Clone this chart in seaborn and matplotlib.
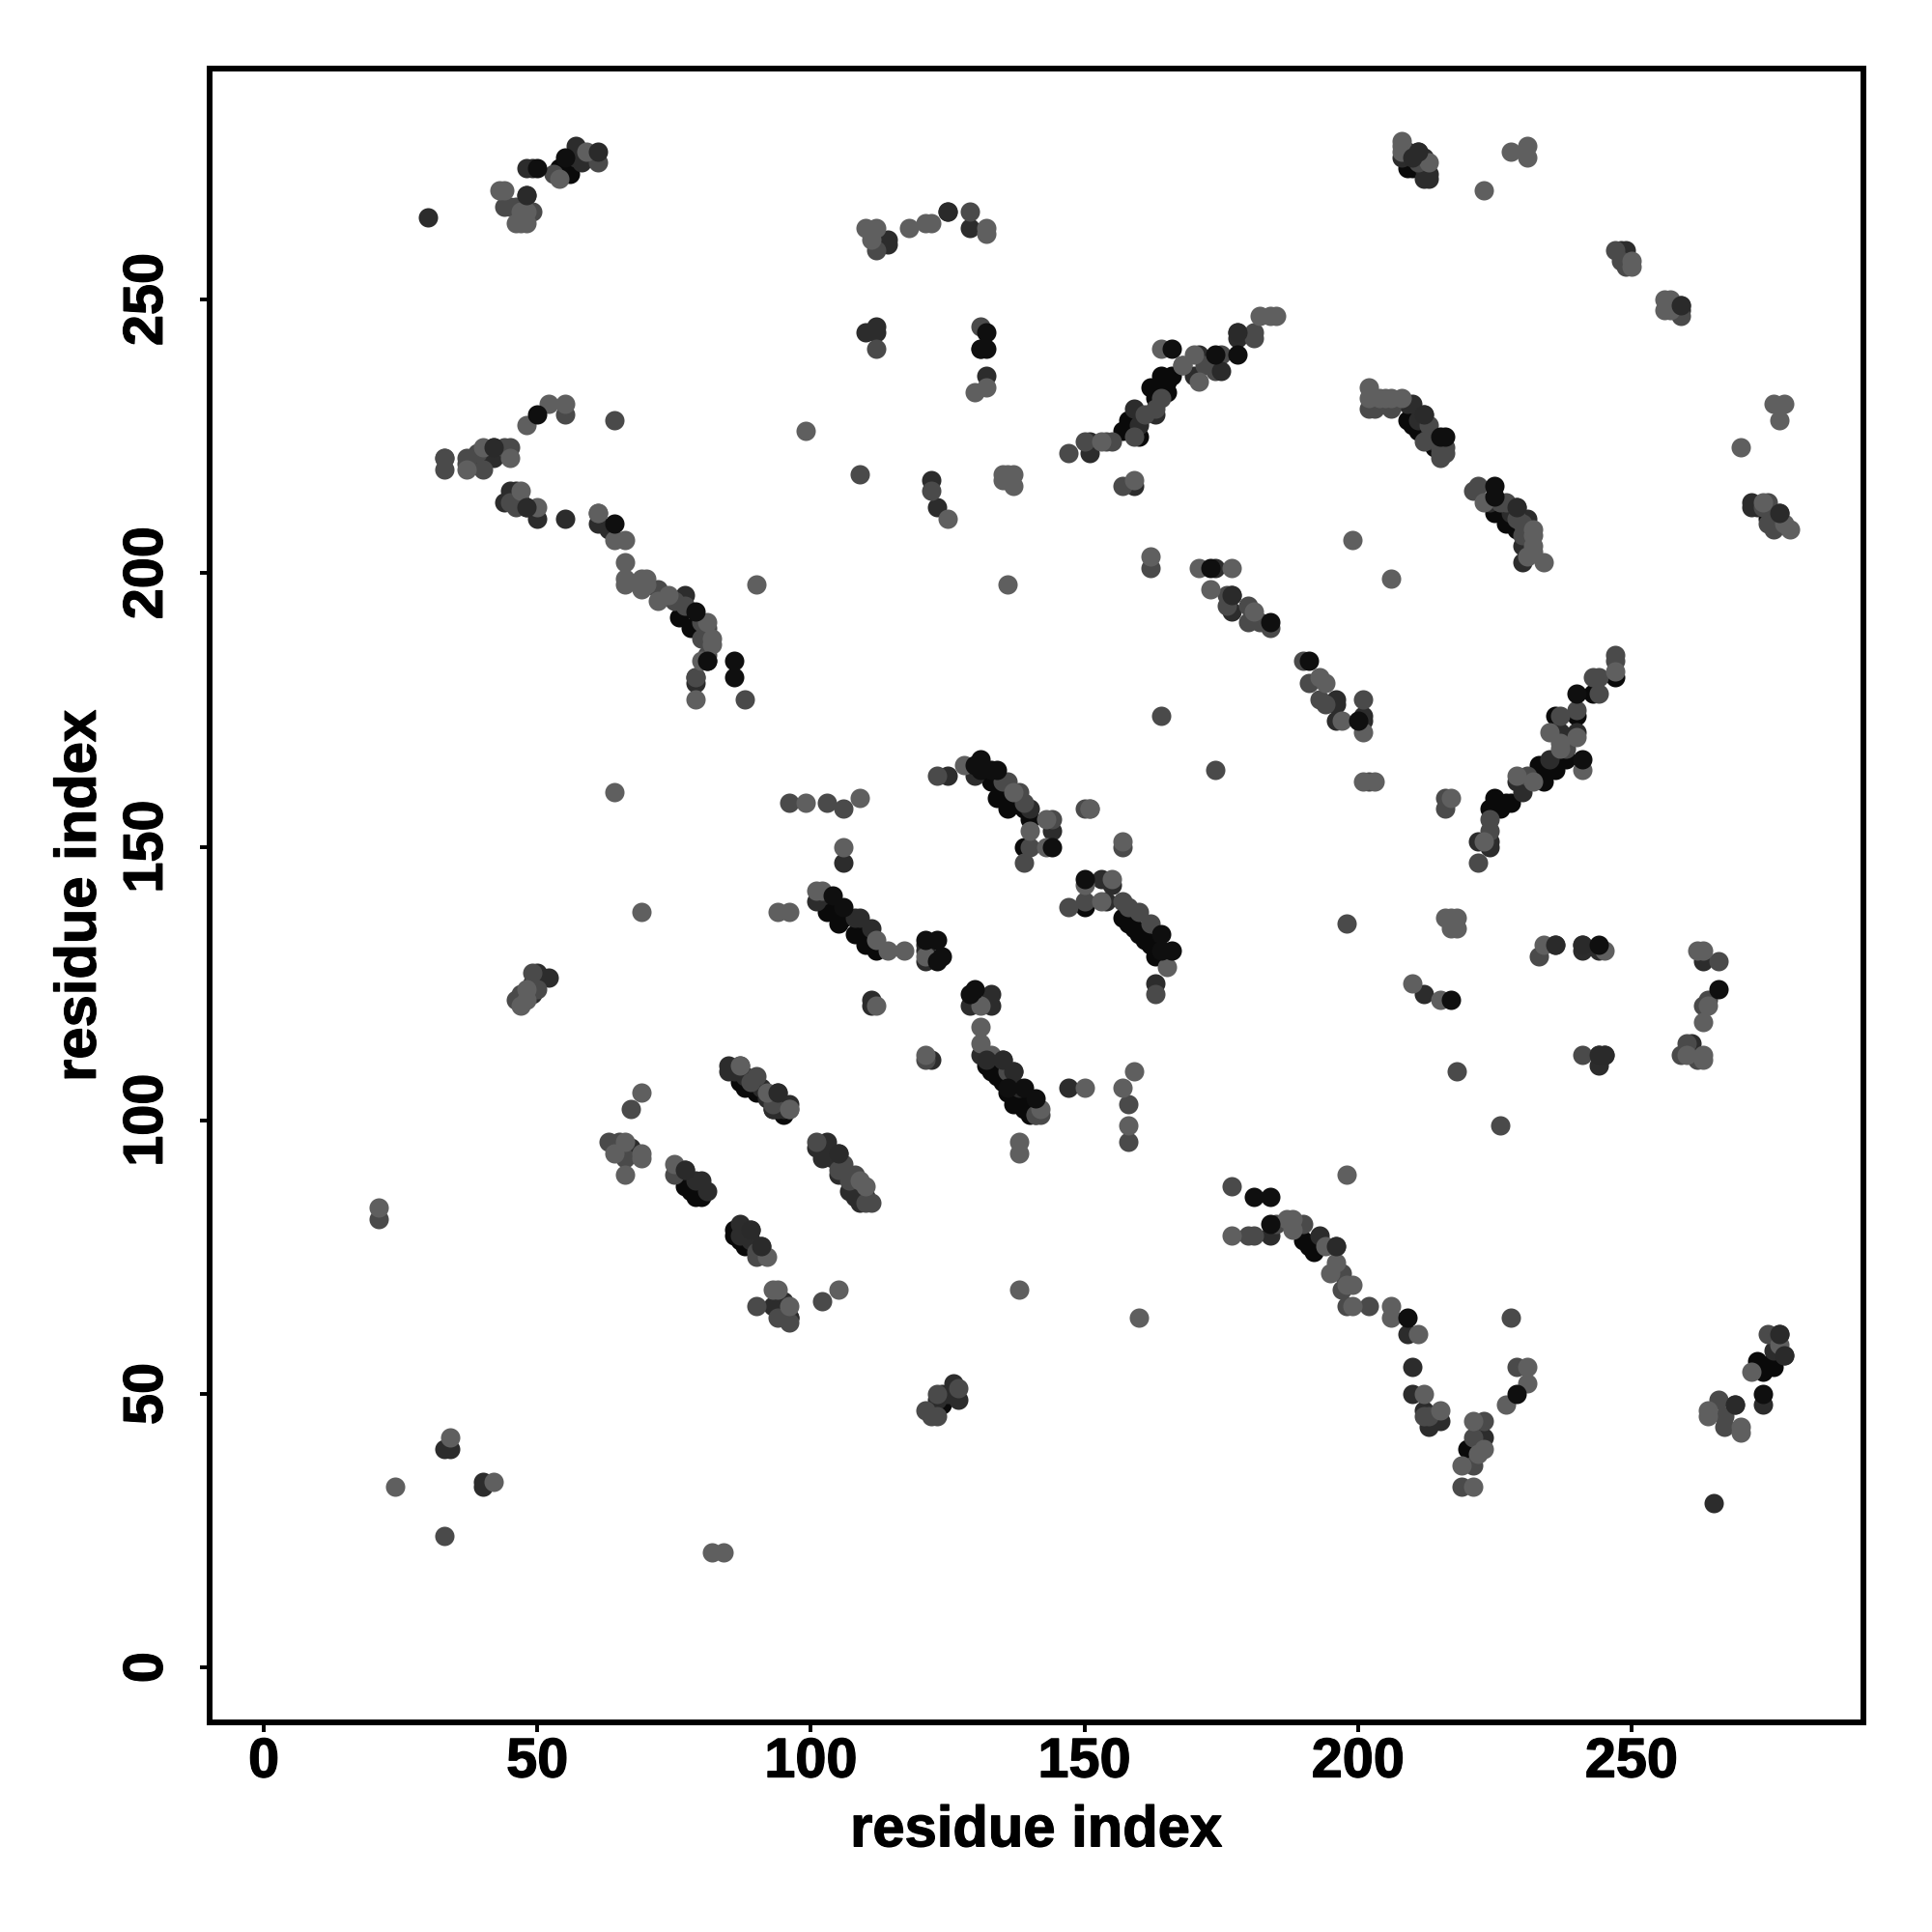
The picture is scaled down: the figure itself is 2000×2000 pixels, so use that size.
import matplotlib
matplotlib.use("Agg")
import matplotlib.pyplot as plt
import matplotlib.patheffects as pe
import pandas as pd
import seaborn as sns

# contacts, grouped by grey level (drawn in this order)
black_under = [(54,274),(55,275),(56,273),(55,273),(56,275),(40,220),(76,192),(78,190),(81,184),
    (158,228),(157,226),(158,226),(160,225),(162,234),(163,232),(164,234),(165,235),(166,236),(165,233),(164,236),
    (209,228),(211,226),(209,274),(210,274),(210,275),(212,227),(225,211),(226,212),(227,209),(229,208),(228,210),
    (103,138),(105,136),(108,134),(110,132),(112,131),(104,138),(106,137),(109,134),(111,132),
    (134,159),(136,157),(133,162),(135,160),(137,158),(139,157),(140,155),(139,150),
    (157,137),(159,135),(161,133),(163,130),(158,136),(160,134),(162,132),(150,139),
    (132,110),(134,108),(136,105),(137,103),(140,101),(133,109),(135,107),(138,104),(139,102),
    (77,88),(79,86),(80,86),(78,87),(86,79),(88,77),(87,78),(86,80),
    (87,107),(90,105),(88,106),(93,102),(89,106),(95,101),(96,64),(124,48),
    (220,40),(190,78),(192,76),(191,77),(274,54),(273,56),(276,55),(275,55),(276,56),
    (224,157),(226,157),(225,159),(228,158),(227,158),(234,162),(233,163),(236,164),(235,164),(233,165),
    (238,166),(237,166),(247,181),(240,174),(236,174),(243,178),(275,210),(276,209),(210,227),(214,223)]
dark = [(30,265),(48,274),(49,274),(57,278),(57,276),(58,275),(48,269),(42,223),(42,221),(48,212),(44,213),(45,215),(46,215),
    (50,210),(55,210),(61,209),(63,208),(77,196),(79,180),(79,181),
    (151,224),(151,222),(159,230),(160,227),(163,229),(170,236),(171,240),
    (178,244),(178,243),(159,216),(212,272),(213,272),(211,277),(212,274),(209,277),(208,276),
    (209,231),(210,231),(212,229),(214,224),(231,210),(229,212),(230,205),(230,202),
    (174,201),(177,196),(177,193),(196,177),(196,176),(196,173),(201,174),(201,173),
    (101,140),(102,141),(108,137),(109,137),(111,135),(121,129),(111,122),(111,121),
    (129,121),(133,121),(133,123),(122,111),(131,112),(135,111),(137,109),(141,101),
    (125,163),(130,163),(140,157),(144,153),(153,144),(155,143),(154,140),(163,125),
    (85,110),(85,109),(87,110),(94,105),(93,102),(95,102),(96,103),(103,96),(101,95),(102,93),(105,94),
    (107,87),(109,85),(105,90),(110,86),(64,95),(67,95),(77,91),(79,89),(80,89),(81,87),
    (87,81),(89,80),(91,77),(93,66),(95,67),(95,65),(96,64),(126,52),(127,49),(124,50),(123,49),(125,50),
    (184,79),(193,79),(196,77),(209,61),(210,55),(210,50),(212,47),(213,44),(215,45),(223,42),
    (265,30),(269,48),(274,48),(277,61),(278,57),(276,58),
    (224,151),(224,150),(222,151),(230,160),(229,162),(235,166),(237,171),(240,171),(236,171),(244,112),(245,112),(244,110),
    (241,132),(241,131),(244,131),(236,132),(212,123),(263,129),(261,112),(261,114),
    (110,244),(112,245),(112,244),(132,236),(114,261),(114,260),(125,266),(129,263),(33,40),(34,40),(40,34),(40,33),
    (248,259),(249,259),(259,249),(259,248),(272,213),(272,212),(277,211),(122,217),(123,212),(52,126),(51,126),(50,127),(49,125),(49,123),
    (147,106),(106,147),(273,212),(86,109),(88,108),(91,106),(92,104),(94,102),(104,93),(106,90),(108,86),(87,79),(89,78),(121,132),(121,131),
    (213,225),(211,228),(224,213),(228,211),(212,276),(213,273)]
mid = [(44,267),(45,267),(46,267),(49,266),(61,275),(53,273),(33,219),(37,221),(37,220),(39,222),(40,219),(44,223),(45,223),
    (55,229),(64,228),(46,212),(45,213),(47,213),(61,211),(72,197),(75,195),(77,194),(80,191),(81,190),(80,188),(81,185),
    (79,181),(88,177),(150,224),(154,224),(155,224),(159,225),(161,229),(163,230),(164,232),(168,238),(172,238),(175,240),(174,237),(181,243),(181,244),
    (147,222),(157,216),(202,230),(203,230),(206,230),(213,227),(212,224),(215,223),(216,222),(215,221),(216,223),
    (221,215),(222,216),(227,213),(229,210),(230,207),(162,201),(176,196),(176,194),(180,194),(180,191),(182,191),(184,190),
    (190,184),(191,180),(193,177),(194,176),(201,177),(164,174),(174,164),(202,162),(216,159),(216,157),(150,157),(157,150),
    (96,158),(103,158),(106,157),(123,163),(135,162),(136,162),(138,160),(139,158),(140,150),(144,155),(139,147),
    (147,139),(150,140),(157,140),(158,139),(160,138),(162,136),(163,123),(121,111),(136,109),(141,101),(142,101),
    (158,103),(158,96),(90,108),(96,102),(101,96),(105,91),(108,90),(111,85),(63,96),(65,96),(66,93),(67,102),
    (75,90),(90,75),(90,66),(94,64),(96,63),(102,67),(121,47),(122,46),(123,46),(123,50),(127,51),
    (177,88),(180,79),(181,79),(185,81),(190,81),(197,72),(197,69),(198,66),(202,66),(212,46),(213,46),
    (223,45),(221,42),(221,37),(219,33),(228,64),(229,55),(266,49),(267,46),(267,44),(275,61),
    (247,185),(247,184),(243,181),(244,181),(240,175),(237,174),(238,168),(244,178),(222,147),(231,163),(224,155),(224,153),
    (233,130),(241,112),(198,136),(218,109),(226,99),(266,129),(263,121),(259,112),(260,114),(262,111),(264,122),
    (112,241),(131,245),(131,241),(112,259),(129,266),(122,215),(109,218),(247,259),(248,257),(249,256),(259,247),(276,208),(275,213),
    (47,123),(46,122),(50,124),(49,127),(33,221),(33,24),(21,82),(33,221),
    (89,107),(93,103),(106,92),(107,89),(110,85),(90,76),(275,209),(274,212),(275,212),(226,213),(230,209),(211,275),(215,222)]
light = [(43,270),(44,270),(47,266),(48,266),(46,264),(47,264),(48,264),(54,272),(59,277),(37,219),(40,223),(45,221),(48,227),(52,231),(55,231),
    (99,226),(47,215),(50,212),(61,211),(64,206),(66,206),(66,202),(66,199),(66,198),(90,198),(69,199),(70,199),(69,197),(70,198),(72,195),(74,196),
    (82,188),(82,187),(81,191),(79,177),(80,184),
    (153,224),(159,217),(164,241),(170,240),(171,235),(168,238),(182,247),(184,247),(185,247),(208,279),(208,278),(213,275),(223,270),
    (202,234),(202,232),(204,232),(205,232),(206,232),(208,232),(223,213),(232,208),(232,207),(232,205),(232,204),(231,203),(234,202),
    (162,203),(171,201),(177,201),(173,197),(181,193),(193,181),(194,180),(197,173),(201,171),(199,206),(206,199),
    (201,162),(203,162),(217,159),(151,157),(157,151),(99,158),(109,159),(106,150),(128,165),(137,160),(140,153),(143,155),(143,150),(151,157),
    (150,143),(153,140),(155,144),(165,128),(94,138),(96,138),(102,142),(101,142),(112,133),(114,131),(117,131),(121,130),(112,121),
    (131,121),(131,117),(131,114),(121,112),(133,112),(142,102),(150,106),(159,109),(157,106),(158,99),(138,96),(138,94),
    (87,110),(92,105),(96,102),(110,88),(109,89),(64,94),(66,96),(69,94),(69,93),(69,105),(66,90),(75,92),(92,75),
    (93,69),(94,69),(96,66),(105,69),(138,69),(177,79),(198,90),(187,82),(188,82),(188,80),(194,77),(195,72),(196,74),(198,70),(199,70),(199,66),
    (206,66),(206,64),(211,61),(212,50),(215,47),(221,45),(223,40),(222,39),(219,37),(221,33),(231,55),(231,52),(227,48),
    (264,47),(264,46),(270,44),(270,43),(272,54),(277,59),(247,182),(235,171),(241,164),(240,170),(237,169),(237,168),(232,162),(223,151),(229,163),
    (216,137),(217,137),(218,137),(217,135),(218,135),(234,132),(245,131),(210,125),(215,122),(262,131),(263,131),(264,121),(263,118),(260,112),(263,112),(263,111),
    (110,263),(112,263),(111,261),(118,263),(121,264),(122,264),(132,263),(132,262),(130,233),(132,234),(228,277),(231,278),(231,276),
    (125,210),(135,218),(136,218),(137,218),(135,217),(137,216),(136,198),(160,64),(64,160),(69,138),(24,33),(42,34),(34,42),(21,84),(82,21),(84,21),
    (250,257),(250,256),(256,250),(257,250),(256,248),(257,248),(276,231),(278,231),(277,228),(270,223),(274,213),(278,209),(279,208),
    (47,121),(48,122),(48,124),(208,277)]
dark_top = [(61,277),(48,269),(42,223),(48,212),(177,196),(212,229),(229,212),(138,106),(94,105),(105,94),(89,80),(91,77),(77,91),(196,77),(269,48),(277,61),(278,57),
    (178,244),(236,132),(244,112),(245,112),(241,132),(125,266),(259,249),(277,211),(132,111),(137,109),(135,111),(175,237),(211,277),(210,276)]
black_top = [(50,274),(50,229),(64,209),(55,276),(79,193),(86,184),(86,181),(81,184),(166,241),(174,240),(178,240),(216,225),(215,225),(225,216),(225,214),
    (173,201),(184,191),(191,184),(200,173),(104,141),(106,139),(121,133),(123,133),(123,129),(124,130),(130,124),(129,123),
    (131,166),(130,165),(131,164),(133,164),(134,164),(144,150),(150,144),(164,134),(164,131),(166,131),(141,104),(139,106),(136,106),
    (184,81),(181,86),(184,86),(209,64),(229,50),(274,50),(241,166),(240,178),(217,122),(244,132),(266,124),(132,244),(132,241),(131,241)]

x_ticks = [0, 50, 100, 150, 200, 250]
axis_label = "residue index"
layers = [(black_under, "#0a0a0a"), (dark, "#2c2c2c"), (mid, "#4a4a4a"), (light, "#5f5f5f"),
          (dark_top, "#2a2a2a"), (black_top, "#0f0f0f")]

sns.set_theme(style="white")
plt.rcParams["font.family"] = ["Liberation Sans", "DejaVu Sans"]
plt.rcParams["font.weight"] = "bold"

fig = plt.figure(figsize=(20, 20), dpi=100)
ax = fig.add_axes([0.1083, 0.1083, 0.8562, 0.8562])
for pts, colour in layers:
    df = pd.DataFrame(pts, columns=["i", "j"])
    sns.scatterplot(data=df, x="i", y="j", color=colour, s=208, linewidth=0, ax=ax, legend=False, zorder=3)

ax.set_xlim(-9.97, 292.4)
ax.set_ylim(-10.1, 292.2)
ax.set_xticks(x_ticks)
ax.set_yticks(x_ticks)
ax.tick_params(axis="both", which="major", length=7, width=2.8, color="black", labelsize=41.5,
               labelcolor="black", bottom=True, left=True)
ax.tick_params(axis="x", pad=3.2)
ax.tick_params(axis="y", pad=19.5)
for lab in ax.get_yticklabels():
    lab.set_rotation(90)
    lab.set_va("center")
for s in ax.spines.values():
    s.set_visible(True)
    s.set_color("black")
    s.set_linewidth(4.3)
ax.set_xlabel(axis_label, fontsize=43, fontweight="bold", color="black")
ax.set_ylabel(axis_label, fontsize=43, fontweight="bold", color="black")
ax.xaxis.set_label_coords(0.5, -0.0496)
ax.yaxis.set_label_coords(-0.0618, 0.5)
heavier = [pe.withStroke(linewidth=0.9, foreground="black")]
for lab in ax.get_xticklabels() + ax.get_yticklabels() + [ax.xaxis.label, ax.yaxis.label]:
    lab.set_fontweight("bold")
    lab.set_path_effects(heavier)
fig.savefig("out.png", dpi=100, facecolor="white")
